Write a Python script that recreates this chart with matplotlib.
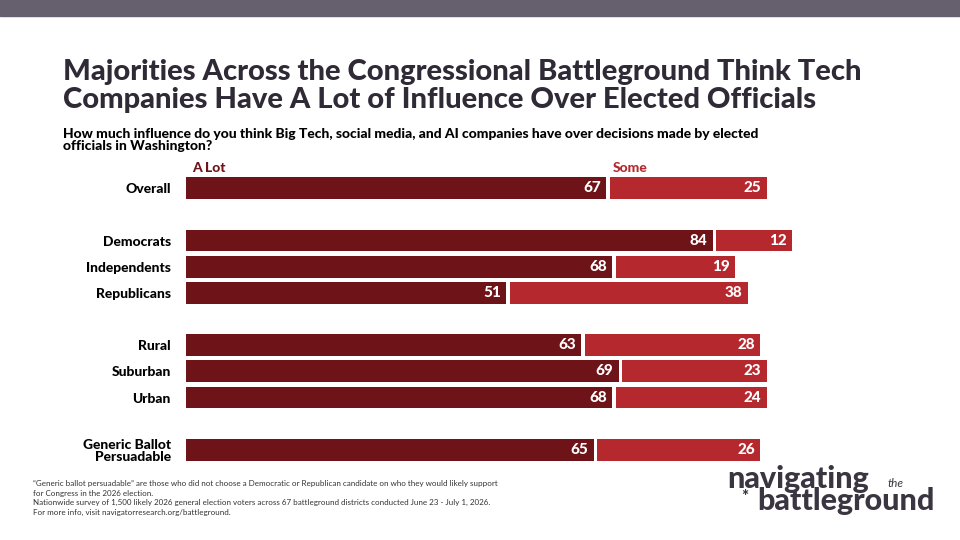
import matplotlib.pyplot as plt

categories = ["Overall", "Democrats", "Independents", "Republicans",
              "Rural", "Suburban", "Urban", "Generic Ballot\nPersuadable"]
a_lot = [67, 84, 68, 51, 63, 69, 68, 65]
some = [25, 12, 19, 38, 28, 23, 24, 26]
rows = [0, 2, 3, 4, 6, 7, 8, 10]

DARK = "#6e1418"
LIGHT = "#b5292e"
INK = "#2f2a35"
LOGO = "#3a3540"

plt.rcParams["font.family"] = ["Lato", "DejaVu Sans"]

fig = plt.figure(figsize=(9.6, 5.4), dpi=100)
fig.patches.append(plt.Rectangle((0, 1 - 16 / 540), 1, 16 / 540,
                                 transform=fig.transFigure, color="#655f6e"))

fig.text(63 / 960, 1 - 86 / 540,
         "Majorities Across the Congressional Battleground Think Tech\n"
         "Companies Have A Lot of Influence Over Elected Officials",
         fontsize=21, fontweight="black", color=INK, va="center",
         linespacing=1.12)
fig.text(63 / 960, 1 - 140 / 540,
         "How much influence do you think Big Tech, social media, and AI companies have over decisions made by elected\n"
         "officials in Washington?",
         fontsize=10, fontweight="black", color="black", va="center",
         linespacing=1.05)

ax = fig.add_axes([186 / 960, 1 - 476 / 540, 627 / 960, 314 / 540])
gap = 0.6
ax.barh(rows, a_lot, height=0.84, color=DARK)
ax.barh(rows, some, left=[a + gap for a in a_lot], height=0.84, color=LIGHT)
for r, a, s in zip(rows, a_lot, some):
    ax.text(a - 0.8, r, str(a), color="white", fontsize=11,
            fontweight="black", ha="right", va="center")
    ax.text(a + gap + s - 0.8, r, str(s), color="white", fontsize=11,
            fontweight="black", ha="right", va="center")
ax.text(1, -0.55, "A Lot", color=DARK, fontsize=10, fontweight="black",
        ha="left", va="bottom")
ax.text(a_lot[0] + gap + 0.5, -0.55, "Some", color=LIGHT, fontsize=10,
        fontweight="black", ha="left", va="bottom")

ax.set_xlim(0, 100)
ax.set_ylim(11, -1)
ax.set_yticks(rows)
ax.set_yticklabels(categories, fontsize=10, fontweight="black", color="black",
                   linespacing=1.05)
ax.tick_params(axis="y", length=0, pad=11)
ax.set_xticks([])
for lbl in ax.get_yticklabels():
    lbl.set_ha("right")
    lbl.set_multialignment("right")
for sp in ax.spines.values():
    sp.set_visible(False)

fig.text(33 / 960, 1 - 498 / 540,
         "\u201cGeneric ballot persuadable\u201d are those who did not choose a Democratic or Republican candidate on who they would likely support\n"
         "for Congress in the 2026 election.\n"
         "Nationwide survey of 1,500 likely 2026 general election voters across 67 battleground districts conducted June 23 - July 1, 2026.\n"
         "For more info, visit navigatorresearch.org/battleground.",
         fontsize=5.8, color="#333333", va="center", linespacing=1.45)

fig.text(727 / 960, 1 - 488 / 540, "navigating", fontsize=22,
         fontweight="black", color=LOGO, va="baseline")
fig.text(888 / 960, 1 - 487 / 540, "the", fontsize=8.5, style="italic",
         color=LOGO, va="baseline")
fig.text(741 / 960, 1 - 497 / 540, "*", fontsize=12, fontweight="black",
         color=LOGO, va="center")
fig.text(935 / 960, 1 - 510 / 540, "battleground", fontsize=22,
         fontweight="black", color=LOGO, va="baseline", ha="right")

fig.savefig("out.png", dpi=100)
